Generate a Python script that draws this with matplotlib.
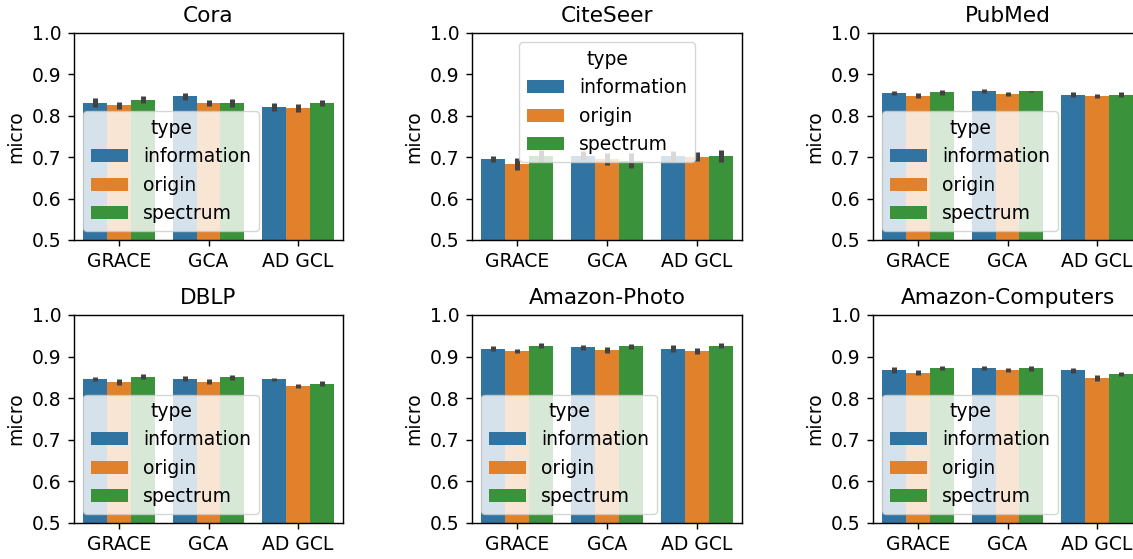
import matplotlib
matplotlib.use('Agg')
import matplotlib.pyplot as plt
import numpy as np

# scale factor: original was drawn at a higher dpi than 100
s = 1.28
fs = 13.5
plt.rcParams['font.family'] = ['DejaVu Sans']
plt.rcParams['font.size'] = fs
plt.rcParams['axes.linewidth'] = 0.8 * s
plt.rcParams['xtick.major.size'] = 3.5 * s
plt.rcParams['ytick.major.size'] = 3.5 * s
plt.rcParams['xtick.major.width'] = 0.8 * s
plt.rcParams['ytick.major.width'] = 0.8 * s
plt.rcParams['xtick.major.pad'] = 3.5 * s
plt.rcParams['ytick.major.pad'] = 3.5 * s
plt.rcParams['axes.titlepad'] = 6 * s
plt.rcParams['axes.labelpad'] = 4 * s

methods = ['GRACE', 'GCA', 'AD GCL']
types = ['information', 'origin', 'spectrum']
colors = ['#3274a1', '#e1812c', '#3a923a']

# rows follow types, columns follow methods
cora_mean = [[0.832, 0.847, 0.821], [0.825, 0.831, 0.819], [0.839, 0.831, 0.830]]
cora_err = [[0.011, 0.008, 0.010], [0.009, 0.008, 0.009], [0.008, 0.009, 0.007]]

citeseer_mean = [[0.696, 0.704, 0.704], [0.684, 0.695, 0.701], [0.703, 0.692, 0.703]]
citeseer_err = [[0.008, 0.010, 0.012], [0.015, 0.014, 0.011], [0.014, 0.018, 0.014]]

pubmed_mean = [[0.855, 0.859, 0.851], [0.849, 0.852, 0.847], [0.857, 0.859, 0.851]]
pubmed_err = [[0.005, 0.005, 0.006], [0.005, 0.005, 0.005], [0.006, 0.001, 0.006]]

dblp_mean = [[0.846, 0.847, 0.845], [0.838, 0.840, 0.830], [0.851, 0.850, 0.835]]
dblp_err = [[0.005, 0.006, 0.004], [0.007, 0.006, 0.005], [0.006, 0.006, 0.006]]

photo_mean = [[0.919, 0.922, 0.919], [0.914, 0.916, 0.913], [0.926, 0.925, 0.926]]
photo_err = [[0.006, 0.005, 0.009], [0.005, 0.007, 0.007], [0.006, 0.006, 0.006]]

computers_mean = [[0.867, 0.872, 0.867], [0.861, 0.867, 0.848], [0.872, 0.872, 0.859]]
computers_err = [[0.007, 0.005, 0.006], [0.006, 0.005, 0.007], [0.005, 0.006, 0.005]]

datasets = [
    ('Cora', cora_mean, cora_err, 'lower left'),
    ('CiteSeer', citeseer_mean, citeseer_err, 'upper center'),
    ('PubMed', pubmed_mean, pubmed_err, 'lower left'),
    ('DBLP', dblp_mean, dblp_err, 'lower left'),
    ('Amazon-Photo', photo_mean, photo_err, 'lower left'),
    ('Amazon-Computers', computers_mean, computers_err, 'lower left'),
]

W, H = 1133, 559
fig = plt.figure(figsize=(W / 100, H / 100), dpi=100)

# axes boxes in pixels (left, right) / (top, bottom); the right column runs past the crop
col_x = [(74, 343), (472, 742), (873, 1142)]
row_y = [(33, 240), (315, 523)]

for k, (name, mean, err, loc) in enumerate(datasets):
    r, c = divmod(k, 3)
    x0, x1 = col_x[c]
    y0, y1 = row_y[r]
    ax = fig.add_axes([x0 / W, 1 - y1 / H, (x1 - x0) / W, (y1 - y0) / H])

    width = 0.8 / 3
    x = np.arange(len(methods))
    for j, t in enumerate(types):
        pos = x + (j - 1) * width
        ax.bar(pos, mean[j], width=width, color=colors[j], label=t)
        for p, m, e in zip(pos, mean[j], err[j]):
            ax.plot([p, p], [m - e, m + e], color='#424242', lw=3.6,
                    solid_capstyle='butt')

    ax.set_xlim(-0.5, 2.5)
    ax.set_ylim(0.5, 1.0)
    ax.set_xticks(x)
    ax.set_xticklabels(methods)
    ax.set_yticks([0.5, 0.6, 0.7, 0.8, 0.9, 1.0])
    ax.set_ylabel('micro')
    ax.set_title(name, fontsize=15.6)
    ax.legend(title='type', loc=loc, fontsize=fs, title_fontsize=fs)

fig.savefig('out.png', dpi=100)
